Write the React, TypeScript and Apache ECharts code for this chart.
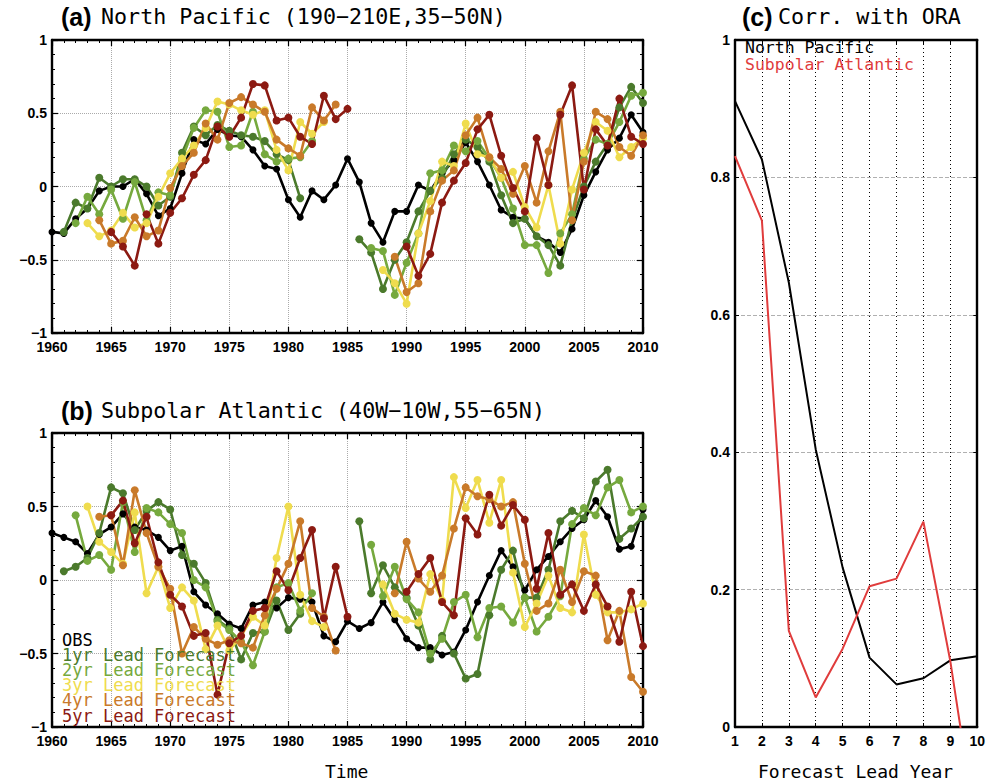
import React, { useEffect, useRef } from "react";
import * as echarts from "echarts";

// ---------- data ----------
const YEARS: number[] = Array.from({ length: 51 }, (_, i) => 1960 + i);
const N = null;

// (a) North Pacific
const A_OBS = [
  -0.31, -0.32, -0.22, -0.15, -0.03,
  0.0, 0.0, 0.05, -0.05, -0.2,
  -0.15, 0.09, 0.32, 0.29, 0.39,
  0.35, 0.34, 0.25, 0.14, 0.12,
  -0.09, -0.21, -0.03, -0.09, 0.01,
  0.19, 0.03, -0.25, -0.38, -0.17,
  -0.17, 0.01, -0.03, 0.09, 0.18,
  0.3, 0.17, 0.01, -0.16, -0.21,
  -0.22, -0.34, -0.38, -0.45, -0.29,
  -0.06, 0.1, 0.25, 0.33, 0.49,
  0.37,
];
const A_L1 = [
  N, -0.31, -0.11, -0.15, 0.06,
  0.0, 0.05, 0.05, 0.0, -0.13,
  -0.07, 0.23, 0.41, 0.35, 0.42,
  0.38, 0.35, 0.34, 0.31, 0.22,
  0.18, -0.08, N, N, N,
  N, -0.36, -0.45, -0.7, -0.5,
  -0.38, -0.17, -0.03, 0.06, 0.22,
  0.32, 0.27, 0.17, -0.06, -0.25,
  -0.22, -0.34, -0.4, -0.54, -0.23,
  0.0, 0.17, 0.29, 0.54, 0.68,
  0.57,
];
const A_L2 = [
  N, N, -0.25, -0.07, -0.19,
  -0.02, -0.22, 0.03, -0.23, -0.04,
  -0.06, 0.19, 0.4, 0.52, 0.51,
  0.27, 0.28, 0.51, 0.22, 0.17,
  0.19, 0.2, 0.31, N, N,
  N, N, -0.42, -0.44, -0.74,
  -0.52, -0.32, 0.09, 0.11, 0.28,
  0.24, 0.31, 0.19, 0.06, -0.15,
  -0.4, -0.4, -0.59, -0.32, -0.19,
  0.19, 0.32, 0.29, 0.44, 0.62,
  0.64,
];
const A_L3 = [
  N, N, N, -0.25, -0.34,
  -0.3, -0.18, -0.28, -0.25, -0.07,
  0.09, 0.19, 0.28, 0.4, 0.58,
  0.56, 0.52, 0.49, 0.52, 0.25,
  0.11, 0.44, 0.36, 0.44, N,
  N, N, N, -0.57, -0.66,
  -0.8, -0.32, -0.1, 0.17, 0.14,
  0.43, 0.22, 0.2, 0.06, 0.1,
  -0.14, -0.28, 0.01, -0.39, -0.02,
  0.23, 0.44, 0.38, 0.2, 0.27,
  0.33,
];
const A_L4 = [
  N, N, N, N, -0.23,
  -0.39, -0.37, -0.21, -0.34, -0.3,
  -0.01, 0.14, 0.23, 0.43, 0.32,
  0.57, 0.61, 0.56, 0.51, 0.32,
  0.26, 0.21, 0.54, 0.45, 0.56,
  N, N, N, N, -0.48,
  -0.72, -0.66, -0.17, 0.04, 0.11,
  0.35, 0.47, 0.2, 0.12, -0.05,
  0.14, -0.11, 0.24, 0.51, -0.23,
  0.17, 0.51, 0.46, 0.27, 0.21,
  0.35,
];
const A_L5 = [
  N, N, N, N, N,
  -0.31, -0.41, -0.54, -0.19, -0.39,
  -0.18, -0.08, 0.08, 0.18, 0.41,
  0.34, 0.47, 0.7, 0.69, 0.45,
  0.47, 0.34, 0.29, 0.62, 0.46,
  0.53, N, N, N, N,
  -0.41, -0.61, -0.46, -0.11, 0.04,
  0.16, 0.39, 0.49, 0.21, -0.01,
  -0.17, 0.33, 0.01, 0.49, 0.69,
  -0.02, 0.39, 0.28, 0.6, 0.34,
  0.29,
];

// (b) Subpolar Atlantic
const B_OBS = [
  0.32, 0.29, 0.26, 0.18, 0.31,
  0.36, 0.45, 0.36, 0.34, 0.29,
  0.2, 0.23, -0.08, -0.17, -0.23,
  -0.3, -0.33, -0.17, -0.15, -0.19,
  -0.12, -0.13, -0.15, -0.38, -0.42,
  -0.28, -0.33, -0.29, -0.15, -0.27,
  -0.4, -0.46, -0.46, -0.51, -0.49,
  -0.34, -0.15, 0.03, 0.2, 0.09,
  -0.07, 0.07, 0.16, 0.26, 0.35,
  0.41, 0.54, 0.43, 0.21, 0.23,
  0.48,
];
const B_L1 = [
  N, 0.06, 0.09, 0.15, 0.32,
  0.63, 0.59, 0.34, 0.47, 0.53,
  0.48, 0.17, 0.11, -0.02, -0.27,
  -0.33, -0.54, -0.36, -0.35, -0.14,
  -0.34, -0.23, N, N, N,
  N, 0.4, -0.09, 0.1, -0.05,
  -0.12, -0.31, -0.54, -0.38, -0.5,
  -0.67, -0.64, -0.24, 0.07, 0.2,
  -0.12, -0.12, 0.07, 0.4, 0.47,
  0.42, 0.67, 0.75, 0.28, 0.35,
  0.43,
];
const B_L2 = [
  N, N, 0.44, 0.13, 0.17,
  0.07, 0.53, 0.19, 0.49, 0.46,
  0.38, 0.32, 0.0, -0.05, -0.28,
  -0.34, -0.42, -0.58, -0.35, -0.05,
  -0.02, -0.21, -0.09, N, N,
  N, N, 0.24, -0.11, 0.09,
  -0.13, -0.22, -0.5, -0.4, -0.15,
  -0.1, -0.39, -0.19, -0.18, -0.29,
  -0.12, -0.35, -0.25, -0.11, 0.38,
  0.49, 0.44, 0.63, 0.68, 0.46,
  0.5,
];
const B_L3 = [
  N, N, N, 0.5, 0.26,
  0.19, 0.11, 0.46, -0.09, 0.09,
  -0.19, -0.05, -0.14, -0.47, -0.31,
  -0.48, -0.38, -0.25, -0.31, 0.15,
  0.5, -0.1, -0.28, -0.32, N,
  N, N, N, -0.03, -0.23,
  -0.27, -0.29, 0.04, -0.14, 0.7,
  0.49, 0.68, 0.39, 0.68, 0.05,
  -0.32, -0.16, 0.03, -0.19, -0.22,
  0.31, -0.1, -0.22, -0.22, -0.2,
  -0.16,
];
const B_L4 = [
  N, N, N, N, 0.43,
  0.44, 0.1, 0.61, 0.32, 0.09,
  -0.06, -0.5, -0.32, -0.4, -0.44,
  -0.41, -0.43, -0.46, -0.24, -0.06,
  0.11, 0.4, -0.19, -0.25, -0.48,
  N, N, N, N, -0.09,
  0.26, 0.01, -0.08, 0.03, 0.35,
  0.63, 0.57, 0.55, 0.5, 0.53,
  0.11, -0.21, -0.16, 0.07, -0.15,
  0.06, 0.03, -0.41, -0.21, -0.66,
  -0.76,
];
const B_L5 = [
  N, N, N, N, N,
  0.44, 0.54, 0.25, 0.43, 0.12,
  -0.1, -0.18, -0.38, -0.36, -0.78,
  -0.43, -0.38, -0.21, -0.19, 0.06,
  -0.07, 0.15, 0.34, -0.26, 0.09,
  -0.25, N, N, N, N,
  -0.08, 0.04, 0.15, -0.15, -0.24,
  0.42, 0.31, 0.58, 0.37, 0.51,
  0.41, -0.06, 0.32, -0.1, -0.03,
  -0.21, -0.03, -0.18, -0.42, -0.08,
  -0.45,
];

// (c) correlation with ORA
const LEADS = [1, 2, 3, 4, 5, 6, 7, 8, 9, 10];
const C_NP = [0.911, 0.826, 0.647, 0.404, 0.232, 0.101, 0.062, 0.071, 0.097, 0.103];
const C_SA = [0.831, 0.737, 0.14, 0.043, 0.114, 0.205, 0.216, 0.299, 0.096, -0.16];

const SERIES_NAMES = ["OBS", "1yr Lead Forecast", "2yr Lead Forecast", "3yr Lead Forecast", "4yr Lead Forecast", "5yr Lead Forecast"];
const COLORS = ["#000000", "#4b7a2c", "#76a93e", "#efdc4e", "#c97a2a", "#8c1a12"];
const C_NAMES = ["North Pacific", "Subpolar Atlantic"];
const C_COLORS = ["#000000", "#e03c3c"];

const TICK_FONT = "Liberation Sans";
const TXT_FONT = "DejaVu Sans Mono";

function yrSeries(arr: (number | null)[], color: string, ax: number, size: number, name: string) {
  return {
    type: "line",
    name,
    xAxisIndex: ax,
    yAxisIndex: ax,
    data: YEARS.map((y, i) => [y, arr[i] === null ? "-" : arr[i]]),
    symbol: "circle",
    symbolSize: size,
    showSymbol: true,
    connectNulls: false,
    lineStyle: { color, width: 2.6 },
    itemStyle: { color },
    emphasis: { disabled: true },
  };
}

function timeAxes(grid: number) {
  const common = {
    gridIndex: grid,
    type: "value",
    min: 1960,
    max: 2010,
    interval: 5,
    axisLine: { show: true, onZero: false, lineStyle: { color: "#000", width: 2.4 } },
    axisTick: { show: true, inside: true, length: 6, lineStyle: { color: "#000", width: 1.2 } },
    minorTick: { show: true, splitNumber: 5, length: 3, lineStyle: { color: "#000", width: 1 } },
  };
  return [
    {
      ...common,
      position: "bottom",
      axisLabel: {
        formatter: (v: number) => String(v),
        fontFamily: TICK_FONT,
        fontWeight: "bold",
        fontSize: 14,
        color: "#000",
        margin: 7,
      },
      splitLine: { show: true, lineStyle: { color: "#aaaaaa", type: "dotted", width: 1 } },
    },
    { ...common, position: "top", axisLabel: { show: false }, splitLine: { show: false } },
  ];
}

function valAxes(grid: number) {
  const common = {
    gridIndex: grid,
    type: "value",
    min: -1,
    max: 1,
    interval: 0.5,
    axisLine: { show: true, onZero: false, lineStyle: { color: "#000", width: 2.4 } },
    axisTick: { show: true, inside: true, length: 6, lineStyle: { color: "#000", width: 1.2 } },
    minorTick: { show: true, splitNumber: 5, length: 3, lineStyle: { color: "#000", width: 1 } },
  };
  return [
    {
      ...common,
      position: "left",
      axisLabel: {
        formatter: (v: number) => String(v).replace("-", "\u2212"),
        fontFamily: TICK_FONT,
        fontWeight: "bold",
        fontSize: 14,
        color: "#000",
        margin: 5,
      },
      splitLine: { show: true, lineStyle: { color: "#aaaaaa", type: "dotted", width: 1 } },
    },
    { ...common, position: "right", axisLabel: { show: false }, splitLine: { show: false } },
  ];
}

export default function App() {
  const ref = useRef<HTMLDivElement>(null);

  useEffect(() => {
    if (!ref.current) return;
    const chart = echarts.init(ref.current, null, { renderer: "svg" });

    const aData = [A_OBS, A_L1, A_L2, A_L3, A_L4, A_L5];
    const bData = [B_OBS, B_L1, B_L2, B_L3, B_L4, B_L5];

    const series: any[] = [];
    aData.forEach((arr, i) => series.push(yrSeries(arr, COLORS[i], 0, i === 0 ? 7 : 8, "a " + SERIES_NAMES[i])));
    bData.forEach((arr, i) => series.push(yrSeries(arr, COLORS[i], 2, i === 0 ? 7 : 8, "b " + SERIES_NAMES[i])));
    [C_NP, C_SA].forEach((arr, i) =>
      series.push({
        type: "line",
        name: C_NAMES[i],
        xAxisIndex: 4,
        yAxisIndex: 4,
        data: LEADS.map((l, j) => [l, arr[j]]),
        showSymbol: false,
        symbol: "none",
        clip: true,
        lineStyle: { color: C_COLORS[i], width: 2 },
        emphasis: { disabled: true },
      })
    );

    const cAxisCommon = {
      gridIndex: 2,
      type: "value",
      axisLine: { show: true, onZero: false, lineStyle: { color: "#000", width: 2.4 } },
      axisTick: { show: true, inside: true, length: 4, lineStyle: { color: "#000", width: 1 } },
    };

    const legendB = SERIES_NAMES.map((n, i) => ({
      type: "text",
      left: 62,
      top: 631 + i * 15.2,
      z: 100,
      style: { text: n, fill: COLORS[i], font: `17px "${TXT_FONT}"`, lineHeight: 15 },
    }));

    const option: any = {
      animation: false,
      backgroundColor: "#ffffff",
      grid: [
        { left: 52, top: 40, width: 591, height: 293 },
        { left: 52, top: 433, width: 591, height: 294 },
        { left: 735, top: 40, width: 246, height: 687 },
      ],
      xAxis: [
        ...timeAxes(0),
        ...timeAxes(1),
        {
          ...cAxisCommon,
          position: "bottom",
          min: 1,
          max: 10,
          interval: 1,
          axisLabel: { fontFamily: TICK_FONT, fontWeight: "bold", fontSize: 14, color: "#000", margin: 7 },
          splitLine: { show: true, lineStyle: { color: "#000", type: [1, 3], width: 1 } },
        },
        { ...cAxisCommon, position: "top", min: 1, max: 10, interval: 1, axisLabel: { show: false }, splitLine: { show: false } },
      ],
      yAxis: [
        ...valAxes(0),
        ...valAxes(1),
        {
          ...cAxisCommon,
          position: "left",
          min: 0,
          max: 1,
          interval: 0.2,
          axisLabel: {
            formatter: (v: number) => (v === 0 ? "0" : v === 1 ? "1" : v.toFixed(1)),
            fontFamily: TICK_FONT,
            fontWeight: "bold",
            fontSize: 14,
            color: "#000",
            margin: 5,
          },
          splitLine: { show: true, lineStyle: { color: "#b0b0b0", type: "dashed", width: 1 } },
        },
        { ...cAxisCommon, position: "right", min: 0, max: 1, interval: 0.2, axisLabel: { show: false }, splitLine: { show: false } },
      ],
      series,
      graphic: [
        { type: "text", left: 61, top: 4, style: { text: "(a)", fill: "#000", font: `bold 25px "${TICK_FONT}"` } },
        { type: "text", left: 101, top: 5, style: { text: "North Pacific (190\u2212210E,35\u221250N)", fill: "#000", font: `21.7px "${TXT_FONT}"` } },
        { type: "text", left: 61, top: 398, style: { text: "(b)", fill: "#000", font: `bold 25px "${TICK_FONT}"` } },
        { type: "text", left: 101, top: 399, style: { text: "Subpolar Atlantic (40W\u221210W,55\u221265N)", fill: "#000", font: `21.7px "${TXT_FONT}"` } },
        { type: "text", left: 742, top: 4, style: { text: "(c)", fill: "#000", font: `bold 25px "${TICK_FONT}"` } },
        { type: "text", left: 778, top: 5, style: { text: "Corr. with ORA", fill: "#000", font: `21.7px "${TXT_FONT}"` } },
        { type: "text", left: 745, top: 39, z: 100, style: { text: C_NAMES[0], fill: C_COLORS[0], font: `16.5px "${TXT_FONT}"`, lineHeight: 15 } },
        { type: "text", left: 745, top: 56, z: 100, style: { text: C_NAMES[1], fill: C_COLORS[1], font: `16.5px "${TXT_FONT}"`, lineHeight: 15 } },
        ...legendB,
        { type: "text", left: 325, top: 762, style: { text: "Time", fill: "#000", font: `18px "${TXT_FONT}"` } },
        { type: "text", left: 758, top: 762, style: { text: "Forecast Lead Year", fill: "#000", font: `18px "${TXT_FONT}"` } },
      ],
    };

    chart.setOption(option);
    return () => chart.dispose();
  }, []);

  return (
    <div
      ref={ref}
      style={{ position: "fixed", left: 0, top: 0, width: 988, height: 783, background: "#fff" }}
    />
  );
}
